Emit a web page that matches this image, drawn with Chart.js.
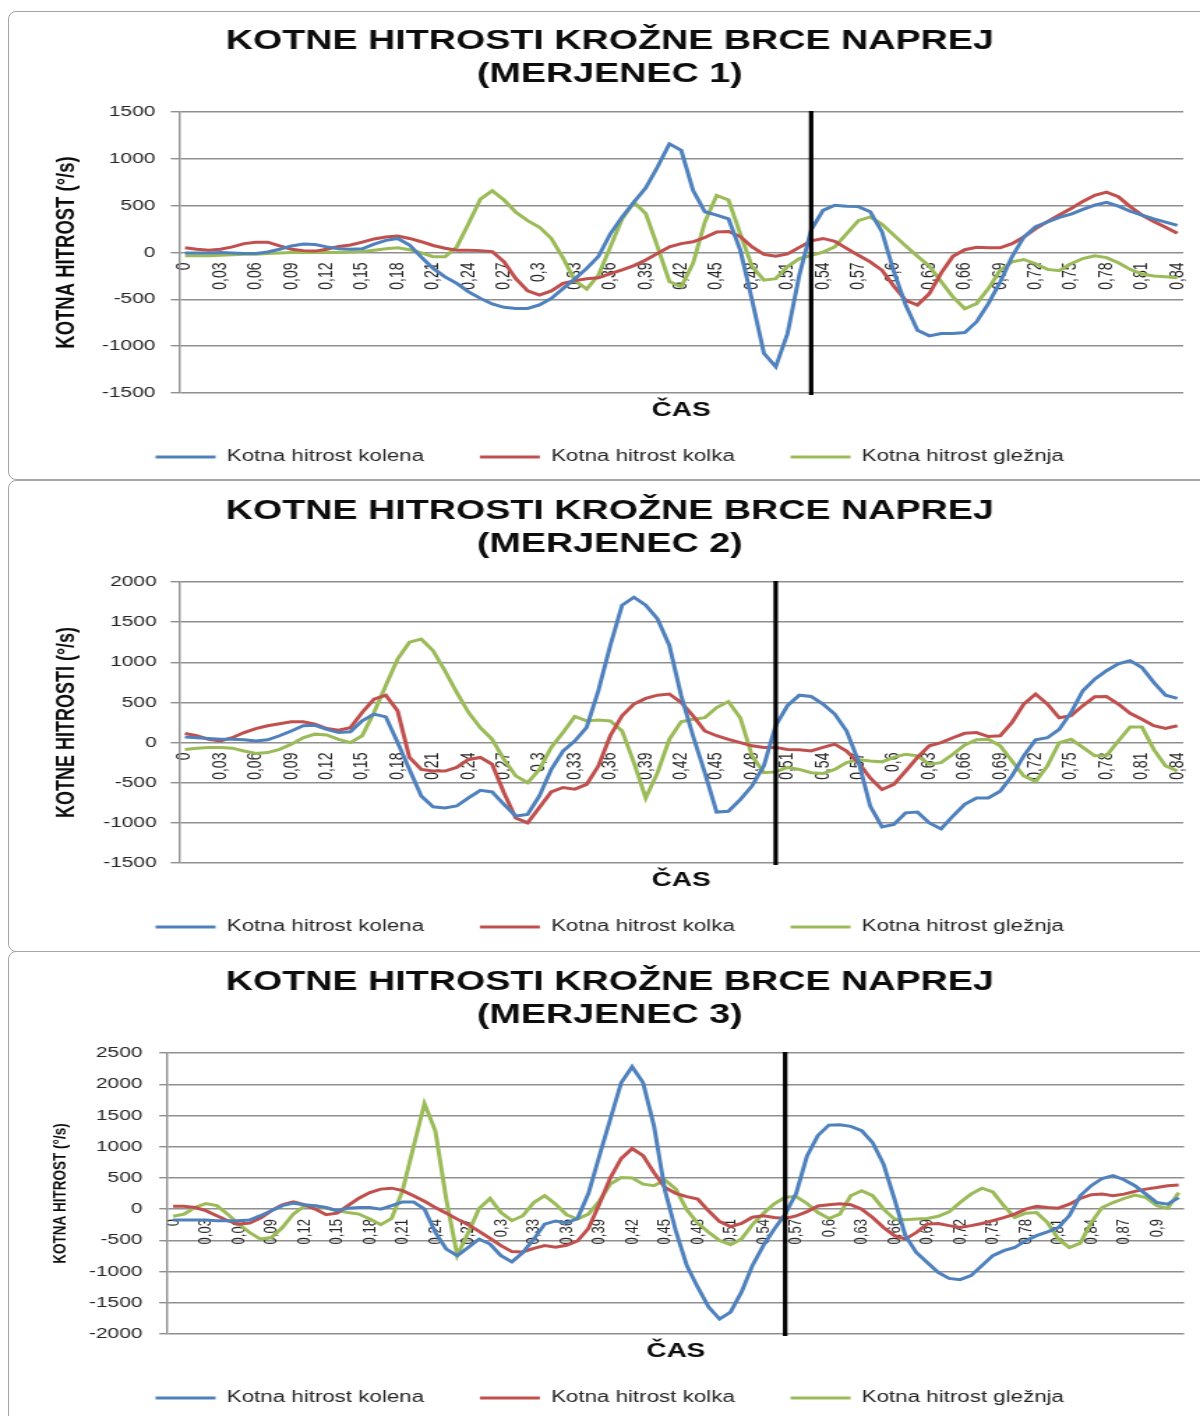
<!DOCTYPE html>
<html>
<head>
<meta charset="utf-8">
<title>Kotne hitrosti krožne brce naprej</title>
<script src="https://cdn.jsdelivr.net/npm/chart.js@4.4.0/dist/chart.umd.min.js"></script>
<style>
  html, body { margin: 0; padding: 0; background: #fff; }
  body { width: 1200px; height: 1416px; overflow: hidden; position: relative; }
  .panel { position: absolute; left: 8px; width: 1230px; border: 1.5px solid #a6a6a6;
           border-radius: 8px; box-sizing: border-box; background: #fff; }
  .wrap { position: absolute; left: 0; width: 860px; height: 470px;
          transform-origin: 0 0; transform: scaleX(1.395349); }
  .wrap canvas { display: block; }
</style>
</head>
<body>
<div class="panel" style="top:11px;height:469px"></div>
<div class="panel" style="top:480px;height:472px"></div>
<div class="panel" style="top:951px;height:480px"></div>

<div class="wrap" style="top:12px"><canvas id="c1" width="860" height="470"></canvas></div>
<div class="wrap" style="top:482px"><canvas id="c2" width="860" height="470"></canvas></div>
<div class="wrap" style="top:953px"><canvas id="c3" width="860" height="470"></canvas></div>

<script>
// Time axis (s), as printed on the category axis
const casLabels = [
  '0','0,01','0,02','0,03','0,04','0,05','0,06','0,07','0,08','0,09',
  '0,1','0,11','0,12','0,13','0,14','0,15','0,16','0,17','0,18','0,19',
  '0,2','0,21','0,22','0,23','0,24','0,25','0,26','0,27','0,28','0,29',
  '0,3','0,31','0,32','0,33','0,34','0,35','0,36','0,37','0,38','0,39',
  '0,4','0,41','0,42','0,43','0,44','0,45','0,46','0,47','0,48','0,49',
  '0,5','0,51','0,52','0,53','0,54','0,55','0,56','0,57','0,58','0,59',
  '0,6','0,61','0,62','0,63','0,64','0,65','0,66','0,67','0,68','0,69',
  '0,7','0,71','0,72','0,73','0,74','0,75','0,76','0,77','0,78','0,79',
  '0,8','0,81','0,82','0,83','0,84','0,85','0,86','0,87','0,88','0,89',
  '0,9','0,91','0,92'
];
const timeStep = 0.01;

const seriesNames = ['Kotna hitrost kolena', 'Kotna hitrost kolka', 'Kotna hitrost gležnja'];
const titleLine = 'KOTNE HITROSTI KROŽNE BRCE NAPREJ';
const subTitles = ['(MERJENEC 1)', '(MERJENEC 2)', '(MERJENEC 3)'];
const yTitles = ['KOTNA HITROST (°/s)', 'KOTNE HITROSTI (°/s)', 'KOTNA HITROST (°/s)'];
const xTitle = 'ČAS';

// Moment of kick marked by the vertical line (s)
const markerTimes = [0.53, 0.50, 0.56];

// Value axis ranges (°/s)
const yMins = [-1500, -1500, -2000];
const yMaxs = [1500, 2000, 2500];
const yStep = 500;

// Merjenec 1 (°/s)
const knee1 = [
  -5, -5, -5, 0, -5, -10, -10, 5, 35, 70,
  90, 85, 60, 40, 35, 40, 90, 130, 150, 80,
  -50, -170, -260, -330, -420, -490, -550, -585, -597, -597,
  -560, -490, -385, -280, -170, -40, 200, 380, 540, 690,
  915, 1160, 1090, 665, 435, 400, 360, 25, -510, -1075,
  -1220, -865, -240, 240, 450, 505, 495, 490, 435, 220,
  -205, -560, -830, -890, -865, -865, -855, -740, -545, -315,
  -45, 165, 275, 325, 375, 410, 460, 505, 535, 495,
  440, 400, 360, 325, 290
];
const hip1 = [
  50, 35, 25, 35, 60, 95, 110, 110, 70, 35,
  20, 15, 35, 65, 80, 110, 145, 165, 175, 150,
  115, 75, 45, 25, 25, 20, 10, -100, -280, -410,
  -455, -410, -330, -300, -280, -270, -225, -185, -140, -80,
  -10, 60, 95, 115, 160, 220, 225, 170, 60, -20,
  -40, -15, 55, 125, 150, 120, 45, -30, -100, -190,
  -360, -510, -560, -440, -220, -40, 30, 55, 50, 50,
  95, 165, 255, 330, 400, 470, 545, 610, 645, 595,
  490, 400, 330, 270, 205
];
const ankle1 = [
  -35, -35, -35, -30, -25, -20, -20, -10, -5, 0,
  0, 0, 0, 0, 5, 10, 25, 40, 50, 30,
  -5, -45, -45, 60, 310, 570, 660, 560, 430, 340,
  270, 150, -60, -300, -390, -240, 60, 360, 535, 415,
  60, -310, -365, -115, 325, 610, 560, 200, -150, -295,
  -280, -150, -65, -30, 5, 60, 200, 340, 380, 300,
  185, 70, -40, -145, -310, -475, -600, -545, -385, -190,
  -100, -75, -120, -180, -195, -120, -65, -35, -55, -110,
  -180, -230, -250, -260, -270
];

// Merjenec 2 (°/s)
const knee2 = [
  70, 60, 50, 40, 40, 35, 20, 35, 85, 145,
  210, 215, 165, 125, 135, 270, 355, 320, 0, -335,
  -665, -800, -815, -790, -690, -595, -615, -770, -915, -895,
  -665, -335, -105, 20, 190, 650, 1210, 1710, 1810, 1710,
  1540, 1210, 585, 85, -375, -865, -855, -710, -540, -290,
  210, 460, 590, 575, 480, 355, 145, -230, -790, -1050,
  -1020, -875, -865, -1000, -1075, -915, -770, -690, -690, -605,
  -415, -165, 35, 60, 165, 375, 645, 790, 895, 980,
  1020, 935, 750, 590, 550
];
const hip2 = [
  115, 85, 40, 20, 60, 125, 175, 210, 235, 260,
  260, 230, 175, 155, 185, 375, 540, 590, 395, -185,
  -335, -355, -355, -310, -210, -185, -270, -625, -940, -1000,
  -810, -615, -560, -580, -520, -290, 85, 335, 480, 550,
  590, 605, 500, 335, 145, 85, 40, 0, -40, -60,
  -60, -85, -90, -105, -60, -20, -105, -250, -440, -585,
  -520, -355, -185, -40, 0, 60, 115, 125, 75, 85,
  250, 480, 605, 480, 310, 335, 460, 570, 575, 480,
  365, 290, 210, 175, 210
];
const ankle2 = [
  -85, -70, -60, -60, -70, -105, -135, -125, -85, -20,
  60, 105, 95, 40, 0, 85, 375, 710, 1040, 1250,
  1290, 1145, 895, 625, 375, 185, 40, -210, -415, -500,
  -335, -60, 125, 325, 270, 280, 270, 145, -250, -690,
  -375, 40, 260, 290, 310, 435, 510, 310, -165, -375,
  -365, -310, -335, -375, -385, -335, -250, -210, -230, -240,
  -185, -145, -165, -270, -250, -145, -30, 35, 40, -40,
  -230, -415, -485, -290, 0, 40, -60, -165, -165, 20,
  195, 195, -85, -290, -355
];

// Merjenec 3 (°/s)
const knee3 = [
  -175, -175, -175, -175, -185, -185, -185, -175, -105, -25,
  55, 95, 70, 55, 25, -25, 15, 25, 25, 0,
  55, 115, 115, 0, -375, -640, -745, -615, -480, -560,
  -745, -845, -695, -480, -240, -190, -220, -150, 250, 850,
  1440, 2025, 2280, 2025, 1330, 300, -350, -905, -1250, -1570,
  -1760, -1650, -1330, -905, -585, -320, -80, 250, 850, 1180,
  1345, 1350, 1325, 1255, 1065, 720, 160, -425, -695, -855,
  -1015, -1110, -1130, -1065, -905, -745, -665, -615, -505, -425,
  -365, -295, -105, 215, 375, 490, 535, 470, 375, 240,
  105, 80, 185
];
const hip3 = [
  45, 45, 25, -25, -105, -185, -240, -225, -145, -25,
  70, 115, 70, 0, -90, -65, 55, 175, 265, 320,
  335, 295, 215, 125, 25, -65, -160, -250, -355, -470,
  -585, -680, -685, -630, -585, -610, -580, -510, -310, 80,
  500, 810, 970, 855, 585, 345, 250, 200, 160, -30,
  -200, -280, -230, -130, -105, -135, -150, -110, -40, 50,
  70, 85, 70, 0, -135, -295, -425, -480, -375, -240,
  -230, -265, -295, -265, -230, -185, -135, -80, 0, 45,
  25, 15, 80, 170, 230, 240, 215, 240, 285, 320,
  345, 375, 385
];
const ankle3 = [
  -115, -80, 25, 90, 55, -80, -240, -375, -480, -455,
  -295, -80, 45, 55, 15, -25, -55, -80, -160, -250,
  -150, 300, 1000, 1690, 1250, 150, -740, -380, 10, 170,
  -55, -185, -105, 105, 215, 80, -90, -160, -80, 130,
  400, 505, 500, 400, 375, 465, 320, -10, -225, -370,
  -505, -570, -480, -250, -70, 85, 190, 200, 90, -55,
  -150, -80, 215, 295, 215, 0, -160, -170, -160, -150,
  -115, -45, 105, 240, 335, 275, 55, -135, -65, -55,
  -215, -480, -615, -545, -215, 25, 105, 170, 225, 185,
  55, 10, 265
];

const seriesData = [
  [knee1, hip1, ankle1],
  [knee2, hip2, ankle2],
  [knee3, hip3, ankle3]
];

// ---- styling / layout (canvas units, stretched horizontally by the wrapper) ----
const FONT = "'Liberation Sans', Arial, Helvetica, sans-serif";
const COLORS = ['#4F81BD', '#C0504D', '#9BBB59'];
const GRID = '#8f8f8f';

const layouts = [
  { id: 'c1', padL: 26, padR: 12, plotLeft: 128.4, tickPad: 11, yTitleSize: 18.5, yTitleCenter: 48, xTickSize: 14 },
  { id: 'c2', padL: 26, padR: 12, plotLeft: 128.3, tickPad: 10, yTitleSize: 18, yTitleCenter: 48, xTickSize: 14 },
  { id: 'c3', padL: 25.4, padR: 11.4, plotLeft: 120.1, tickPad: 12, yTitleSize: 13.5, yTitleCenter: 43, xTickSize: 13 }
];

Chart.defaults.font.family = FONT;
Chart.defaults.color = '#262626';

// Vertical marker line at a given moment on the time axis
const markerLinePlugin = {
  id: 'markerLine',
  afterDatasetsDraw(chart, args, opts) {
    const xs = chart.scales.x;
    const x = xs.getPixelForValue(opts.time / timeStep);
    const { top, bottom } = chart.chartArea;
    const ctx = chart.ctx;
    ctx.save();
    ctx.strokeStyle = '#000';
    ctx.lineWidth = 3.2;
    ctx.beginPath();
    ctx.moveTo(x, top - 1);
    ctx.lineTo(x, bottom + 2);
    ctx.stroke();
    ctx.restore();
  }
};

layouts.forEach((L, k) => {
  const data = seriesData[k];
  const labels = casLabels.slice(0, data[0].length);
  const yTitleLH = 1.2;
  new Chart(document.getElementById(L.id), {
    type: 'line',
    data: {
      labels,
      datasets: data.map((values, s) => ({
        label: seriesNames[s],
        data: values,
        borderColor: COLORS[s],
        backgroundColor: COLORS[s],
        borderWidth: 3,
        pointRadius: 0,
        tension: 0,
        fill: false
      }))
    },
    options: {
      responsive: false,
      animation: false,
      devicePixelRatio: 1,
      layout: { padding: { left: L.padL, right: L.padR, top: 0, bottom: 7 } },
      plugins: {
        title: {
          display: true,
          text: [titleLine, subTitles[k]],
          color: '#0d0d0d',
          font: { family: FONT, size: 27, weight: 'bold', lineHeight: 33 / 27 },
          padding: { top: 13, bottom: 21 }
        },
        legend: {
          position: 'bottom',
          labels: {
            usePointStyle: true,
            pointStyle: 'line',
            pointStyleWidth: 43,
            padding: 40,
            color: '#262626',
            font: { family: FONT, size: 16 }
          }
        },
        tooltip: { enabled: false },
        markerLine: { time: markerTimes[k] }
      },
      scales: {
        x: {
          type: 'category',
          position: { y: 0 },
          offset: true,
          grid: { display: false, drawTicks: false },
          border: { display: false },
          ticks: {
            autoSkip: false,
            minRotation: 90,
            maxRotation: 90,
            padding: 10,
            color: '#262626',
            font: { family: FONT, size: L.xTickSize },
            callback(value, index) { return index % 3 === 0 ? this.getLabelForValue(value) : ''; }
          },
          // the rotated labels sit inside the plot, so they need no side room
          afterFit(scale) { scale.paddingLeft = 0; scale.paddingRight = 0; }
        },
        xCas: {
          type: 'category',
          position: 'bottom',
          offset: true,
          grid: { display: false, drawTicks: false },
          border: { display: false },
          ticks: { display: false },
          title: {
            display: true,
            text: xTitle,
            color: '#0d0d0d',
            font: { family: FONT, size: 20, weight: 'bold', lineHeight: 0.8 },
            padding: { top: 9, bottom: -9 }
          },
          afterFit(scale) { scale.paddingLeft = 0; scale.paddingRight = 0; }
        },
        y: {
          min: yMins[k],
          max: yMaxs[k],
          grid: { color: GRID, lineWidth: 1.4, drawTicks: true, tickLength: 6 },
          border: { display: true, color: GRID, width: 1.4 },
          ticks: {
            stepSize: yStep,
            padding: L.tickPad,
            color: '#262626',
            font: { family: FONT, size: 15 },
            callback: (v) => String(v)
          },
          title: {
            display: true,
            text: yTitles[k],
            color: '#0d0d0d',
            font: { family: FONT, size: L.yTitleSize, weight: 'bold', lineHeight: yTitleLH },
            padding: { top: L.yTitleCenter - L.padL - (L.yTitleSize * yTitleLH) / 2, bottom: 0 }
          },
          afterFit(scale) { scale.width = L.plotLeft - L.padL; }
        }
      }
    },
    plugins: [markerLinePlugin]
  });
});
</script>
</body>
</html>
